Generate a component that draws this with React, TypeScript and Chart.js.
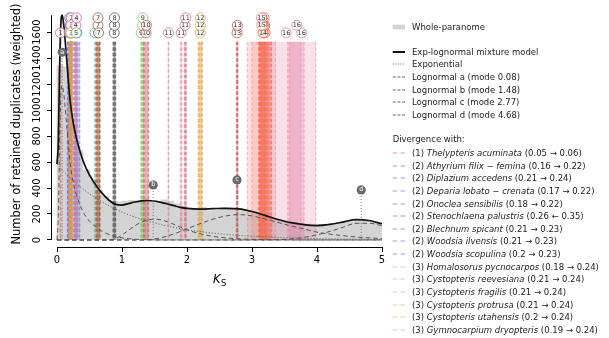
import React, { useEffect, useRef } from "react";
import { Chart, registerables } from "chart.js";

Chart.register(...registerables);

const FONT = '"DejaVu Sans", "Liberation Sans", sans-serif';

// axis ticks
const xTicks = [0, 1, 2, 3, 4, 5];
const yTicks = [0, 200, 400, 600, 800, 1000, 1200, 1400, 1600];

// Ks grid for the fitted curves
const ksGrid = [0, 0.02, 0.04, 0.06, 0.08, 0.1, 0.12, 0.15, 0.2, 0.25, 0.3, 0.4, 0.5, 0.6, 0.7, 0.8, 0.9, 1.0, 1.1, 1.2, 1.3, 1.4, 1.5, 1.6, 1.7, 1.8, 1.9, 2.0, 2.2, 2.4, 2.6, 2.8, 3.0, 3.2, 3.4, 3.6, 3.8, 4.0, 4.2, 4.4, 4.6, 4.8, 5.0];
const mixture = [585, 753, 1322, 1671, 1730, 1669, 1569, 1384, 1079, 900, 780, 610, 500, 420, 357, 306, 274, 269, 280, 292, 301, 304, 300, 290, 277, 264, 251, 243, 238, 241, 244, 240, 219, 189, 158, 133, 118, 111, 120, 138, 157, 150, 125];
const exponential = [585, 573, 562, 551, 540, 529, 519, 504, 479, 456, 433, 392, 355, 321, 291, 263, 238, 215, 195, 176, 160, 144, 131, 118, 107, 97, 87, 79, 65, 53, 43, 36, 29, 24, 19, 16, 13, 11, 9, 7, 6, 5, 4];
const lognormalA = [0, 180, 760, 1120, 1190, 1140, 1050, 880, 600, 444, 347, 218, 145, 99, 66, 42, 26, 16, 10, 6, 3, 2, 1, 0, 0, 0, 0, 0, 0, 0, 0, 0, 0, 0, 0, 0, 0, 0, 0, 0, 0, 0, 0];
const lognormalB = [0, 0, 0, 0, 0, 0, 0, 0, 0, 0, 0, 0, 0, 0, 0, 1, 10, 38, 75, 110, 138, 155, 160, 155, 140, 120, 98, 78, 48, 28, 16, 9, 5, 3, 2, 1, 0, 0, 0, 0, 0, 0, 0];
const lognormalC = [0, 0, 0, 0, 0, 0, 0, 0, 0, 0, 0, 0, 0, 0, 0, 0, 0, 0, 0, 0, 0, 3, 8, 17, 30, 47, 66, 86, 125, 160, 185, 195, 185, 162, 135, 108, 85, 60, 45, 33, 23, 16, 11];
const lognormalD = [0, 0, 0, 0, 0, 0, 0, 0, 0, 0, 0, 0, 0, 0, 0, 0, 0, 0, 0, 0, 0, 0, 0, 0, 0, 0, 0, 0, 0, 0, 0, 0, 0, 0, 2, 8, 20, 40, 66, 98, 128, 129, 110];

const componentLetters = ["a", "b", "c", "d"];
const componentModes = [0.08, 1.48, 2.77, 4.68];
const componentMarkerHeights = [1445, 423, 462, 385];

// Whole-paranome histogram (bin width 0.1)
const binCenters = [0.05, 0.15, 0.25, 0.35, 0.45, 0.55, 0.65, 0.75, 0.85, 0.95, 1.05, 1.15, 1.25, 1.35, 1.45, 1.55, 1.65, 1.75, 1.85, 1.95, 2.05, 2.15, 2.25, 2.35, 2.45, 2.55, 2.65, 2.75, 2.85, 2.95, 3.05, 3.15, 3.25, 3.35, 3.45, 3.55, 3.65, 3.75, 3.85, 3.95, 4.05, 4.15, 4.25, 4.35, 4.45, 4.55, 4.65, 4.75, 4.85, 4.95];
const binCounts = [1340, 1330, 880, 690, 540, 460, 385, 335, 300, 295, 300, 305, 300, 305, 300, 295, 310, 300, 280, 262, 245, 240, 250, 225, 230, 250, 245, 240, 232, 215, 208, 200, 185, 165, 150, 140, 132, 128, 122, 118, 118, 120, 128, 135, 145, 150, 155, 150, 140, 128];

// Divergence (ortholog) ranges
const divFrom = [0.05, 0.16, 0.21, 0.17, 0.18, 0.26, 0.21, 0.21, 0.2, 0.18, 0.21, 0.21, 0.21, 0.2, 0.19, 0.27, 0.28, 0.29, 0.58, 0.6, 0.61, 0.62, 0.86, 0.87, 0.88, 1.29, 1.31, 1.3, 1.33, 1.35, 1.71, 1.9, 1.96, 1.97, 2.17, 2.18, 2.19, 2.76, 2.77, 3.1, 3.11, 3.12, 3.12, 3.15, 2.93, 3.0, 3.3, 3.55, 3.58];
const divTo = [0.06, 0.22, 0.24, 0.22, 0.22, 0.35, 0.23, 0.23, 0.23, 0.24, 0.24, 0.24, 0.24, 0.24, 0.24, 0.31, 0.32, 0.3, 0.59, 0.66, 0.65, 0.66, 0.9, 0.9, 0.89, 1.3, 1.33, 1.34, 1.41, 1.4, 1.72, 1.92, 1.98, 1.99, 2.24, 2.23, 2.22, 2.78, 2.78, 3.3, 3.28, 3.25, 3.22, 3.2, 3.36, 3.3, 3.75, 3.98, 3.8];
const divArrow = ["→", "→", "→", "→", "→", "←", "→", "→", "→", "→", "→", "→", "→", "→", "→"];
const divGroup = [1, 2, 2, 2, 2, 2, 2, 2, 2, 3, 3, 3, 3, 3, 3, 4, 4, 5, 6, 7, 7, 7, 8, 8, 8, 9, 9, 9, 10, 10, 11, 11, 11, 11, 12, 12, 12, 13, 13, 14, 14, 14, 14, 14, 15, 15, 16, 16, 16];
const divNames = [
  "Thelypteris acuminata",
  "Athyrium filix − femina",
  "Diplazium accedens",
  "Deparia lobato − crenata",
  "Onoclea sensibilis",
  "Stenochlaena palustris",
  "Blechnum spicant",
  "Woodsia ilvensis",
  "Woodsia scopulina",
  "Homalosorus pycnocarpos",
  "Cystopteris reevesiana",
  "Cystopteris fragilis",
  "Cystopteris protrusa",
  "Cystopteris utahensis",
  "Gymnocarpium dryopteris",
];
const groupColors = ["#E8505A", "#5A5AE6", "#EBA54B", "#F050C8", "#5CC85C", "#2AB0B0", "#A0522D", "#555555", "#6CCF6C", "#D6505E", "#DC6E7E", "#E6A850", "#D24A4A", "#FF4A1C", "#F08080", "#E27BA0"];

const BAND_TOP = 1525;

function pts(xs: number[], ys: number[]) {
  return xs.map((x, i) => ({ x, y: ys[i] }));
}

const overlayPlugin = {
  id: "overlay",
  afterDatasetDraw(chart: any, args: any) {
    if (args.meta.type !== "bar") return;
    const ctx = chart.ctx;
    const xs = chart.scales.x;
    const ys = chart.scales.y;
    const yTop = ys.getPixelForValue(BAND_TOP);
    const yBot = ys.getPixelForValue(0);
    ctx.save();
    divFrom.forEach((a, i) => {
      const b = divTo[i];
      const col = groupColors[divGroup[i] - 1];
      const x1 = xs.getPixelForValue(Math.min(a, b));
      const x2 = xs.getPixelForValue(Math.max(a, b));
      ctx.globalAlpha = 0.24;
      ctx.fillStyle = col;
      ctx.fillRect(x1, yTop, Math.max(x2 - x1, 0.8), yBot - yTop);
      ctx.globalAlpha = 0.5;
      ctx.strokeStyle = col;
      ctx.lineWidth = 1.2;
      ctx.setLineDash([3.5, 2]);
      ctx.beginPath();
      ctx.moveTo(x1, yTop);
      ctx.lineTo(x1, yBot);
      ctx.moveTo(x2, yTop);
      ctx.lineTo(x2, yBot);
      ctx.stroke();
    });
    ctx.restore();
  },
  afterDatasetsDraw(chart: any) {
    const ctx = chart.ctx;
    const xs = chart.scales.x;
    const ys = chart.scales.y;
    ctx.save();
    // component markers
    componentModes.forEach((m, i) => {
      const px = xs.getPixelForValue(m);
      const py = ys.getPixelForValue(componentMarkerHeights[i]);
      ctx.strokeStyle = "#777";
      ctx.lineWidth = 1;
      ctx.setLineDash([1, 2]);
      ctx.beginPath();
      ctx.moveTo(px, py);
      ctx.lineTo(px, ys.getPixelForValue(0));
      ctx.stroke();
      ctx.setLineDash([]);
      ctx.fillStyle = "#6a6a6a";
      ctx.beginPath();
      ctx.arc(px, py, 4.6, 0, Math.PI * 2);
      ctx.fill();
      ctx.fillStyle = "#fff";
      ctx.font = `6.5px ${FONT}`;
      ctx.textAlign = "center";
      ctx.textBaseline = "middle";
      ctx.fillText(componentLetters[i], px, py - 0.3);
    });
    // divergence labels
    const bandTopPx = ys.getPixelForValue(BAND_TOP);
    const levels = [bandTopPx - 9, bandTopPx - 16.5, bandTopPx - 24];
    const placed: { x: number; l: number }[] = [];
    divFrom.forEach((a, i) => {
      const mid = (a + divTo[i]) / 2;
      const px = xs.getPixelForValue(mid);
      let best = 0;
      let bestDist = -1;
      for (let l = 0; l < levels.length; l++) {
        let near = Infinity;
        placed.forEach((p) => {
          if (p.l === l) near = Math.min(near, Math.abs(p.x - px));
        });
        if (near >= 8) {
          best = l;
          bestDist = Infinity;
          break;
        }
        if (near > bestDist) {
          bestDist = near;
          best = l;
        }
      }
      placed.push({ x: px, l: best });
      const py = levels[best];
      const col = groupColors[divGroup[i] - 1];
      ctx.setLineDash([]);
      ctx.globalAlpha = 0.75;
      ctx.fillStyle = "#ffffff";
      ctx.beginPath();
      ctx.arc(px, py, 5, 0, Math.PI * 2);
      ctx.fill();
      ctx.globalAlpha = 0.8;
      ctx.strokeStyle = col;
      ctx.lineWidth = 1;
      ctx.stroke();
      ctx.globalAlpha = 1;
      ctx.fillStyle = "#333";
      ctx.font = `6.5px ${FONT}`;
      ctx.textAlign = "center";
      ctx.textBaseline = "middle";
      ctx.fillText(String(divGroup[i]), px, py);
    });
    ctx.globalAlpha = 1;
    // axis lines
    ctx.strokeStyle = "#000";
    ctx.lineWidth = 1;
    ctx.setLineDash([]);
    const axY = chart.chartArea.bottom + 0.5;
    ctx.beginPath();
    ctx.moveTo(xs.getPixelForValue(xTicks[0]), axY);
    ctx.lineTo(xs.getPixelForValue(xTicks[xTicks.length - 1]), axY);
    ctx.stroke();
    const axX = chart.chartArea.left - 0.5;
    ctx.beginPath();
    ctx.moveTo(axX, ys.getPixelForValue(yTicks[0]));
    ctx.lineTo(axX, ys.getPixelForValue(Math.max(...mixture)));
    ctx.stroke();
    // y tick labels (rotated, at the scale's own tick positions)
    ctx.fillStyle = "#000";
    ctx.font = `10px ${FONT}`;
    ctx.textAlign = "center";
    ctx.textBaseline = "middle";
    ys.ticks.forEach((t: any) => {
      const py = ys.getPixelForValue(t.value);
      ctx.save();
      ctx.translate(37.5, py);
      ctx.rotate(-Math.PI / 2);
      ctx.fillText(String(t.value), 0, 0);
      ctx.restore();
    });
    // axis titles
    ctx.font = `11.5px ${FONT}`;
    ctx.translate(17, 124);
    ctx.rotate(-Math.PI / 2);
    ctx.fillText("Number of retained duplicates (weighted)", 0, 0);
    ctx.setTransform(1, 0, 0, 1, 0, 0);
    const cx = xs.getPixelForValue(2.5);
    ctx.textAlign = "left";
    ctx.textBaseline = "alphabetic";
    ctx.font = `italic 11.5px ${FONT}`;
    const wK = ctx.measureText("K").width;
    ctx.font = `8.5px ${FONT}`;
    const wS = ctx.measureText("S").width;
    const x0 = cx - (wK + wS) / 2;
    ctx.font = `italic 11.5px ${FONT}`;
    ctx.fillText("K", x0, 283);
    ctx.font = `8.5px ${FONT}`;
    ctx.fillText("S", x0 + wK + 0.3, 285.5);
    ctx.restore();
  },
};

function Sym({ kind, color }: { kind: string; color?: string }) {
  let el: any = null;
  if (kind === "rect") el = <rect x={0.7} y={1.7} width={12.3} height={4.7} fill="#d3d3d3" />;
  else if (kind === "solid") el = <line x1={0.7} x2={13} y1={4} y2={4} stroke="#111" strokeWidth={2} />;
  else if (kind === "dotted") el = <line x1={0.7} x2={13} y1={4} y2={4} stroke="#666" strokeWidth={1} strokeDasharray="1 1.5" />;
  else if (kind === "dashed") el = <line x1={0.7} x2={13} y1={4} y2={4} stroke="#666" strokeWidth={1.1} strokeDasharray="3 1.7" />;
  else el = <line x1={0.7} x2={13} y1={4} y2={4} stroke={color} strokeOpacity={0.6} strokeWidth={1.2} strokeDasharray="4.5 3.3" />;
  return el;
}

function Row({ y, kind, color, children }: any) {
  return (
    <>
      {kind ? (
        <svg style={{ position: "absolute", left: 392, top: y - 4 }} width={14} height={8}>
          <Sym kind={kind} color={color} />
        </svg>
      ) : null}
      <div
        style={{
          position: "absolute",
          left: kind ? 412 : 392.7,
          top: y - 6,
          height: 12,
          lineHeight: "12px",
          fontSize: 8.5,
          whiteSpace: "nowrap",
          color: "#222",
        }}
      >
        {children}
      </div>
    </>
  );
}

function Legend() {
  const step = 12.65;
  const curveTop = 51.7;
  const curveLabels = [
    "Exp-lognormal mixture model",
    "Exponential",
    ...componentLetters.map((l, i) => `Lognormal ${l} (mode ${componentModes[i]})`),
  ];
  const curveKinds = ["solid", "dotted", "dashed", "dashed", "dashed", "dashed"];
  return (
    <div style={{ position: "absolute", left: 0, top: 0, width: 609, height: 338, fontFamily: FONT, pointerEvents: "none" }}>
      <Row y={26.7} kind="rect">Whole-paranome</Row>
      {curveLabels.map((t, i) => (
        <Row key={t} y={curveTop + i * step} kind={curveKinds[i]}>
          {t}
        </Row>
      ))}
      <Row y={curveTop + 7 * step - 1}>Divergence with:</Row>
      {divNames.map((n, i) => (
        <Row key={n + i} y={curveTop + (8 + i) * step} kind="div" color={groupColors[divGroup[i] - 1]}>
          ({divGroup[i]}) <i>{n}</i> ({divFrom[i]} {divArrow[i]} {divTo[i]})
        </Row>
      ))}
    </div>
  );
}

export default function App() {
  const ref = useRef<HTMLCanvasElement>(null);
  useEffect(() => {
    document.body.style.margin = "0";
    const canvas = ref.current;
    if (!canvas) return;
    const lineBase = { type: "line" as const, pointRadius: 0, fill: false, cubicInterpolationMode: "monotone" as const, order: 1 };
    const chart = new Chart(canvas, {
      type: "bar",
      data: {
        datasets: [
          {
            type: "bar",
            label: "Whole-paranome",
            data: pts(binCenters, binCounts),
            backgroundColor: "#d4d4d4",
            borderWidth: 0,
            barPercentage: 1,
            categoryPercentage: 1,
            order: 10,
          } as any,
          { ...lineBase, label: "Exponential", data: pts(ksGrid, exponential), borderColor: "#555", borderWidth: 1, borderDash: [1, 2] },
          { ...lineBase, label: "Lognormal a", data: pts(ksGrid, lognormalA), borderColor: "#555", borderWidth: 1, borderDash: [4.5, 3] },
          { ...lineBase, label: "Lognormal b", data: pts(ksGrid, lognormalB), borderColor: "#555", borderWidth: 1, borderDash: [4.5, 3] },
          { ...lineBase, label: "Lognormal c", data: pts(ksGrid, lognormalC), borderColor: "#555", borderWidth: 1, borderDash: [4.5, 3] },
          { ...lineBase, label: "Lognormal d", data: pts(ksGrid, lognormalD), borderColor: "#555", borderWidth: 1, borderDash: [4.5, 3] },
          { ...lineBase, label: "Exp-lognormal mixture model", data: pts(ksGrid, mixture), borderColor: "#111", borderWidth: 1.7, order: 0 },
        ] as any,
      },
      options: {
        animation: false,
        responsive: false,
        maintainAspectRatio: false,
        devicePixelRatio: 1,
        layout: { padding: { left: 0, right: 227, top: 10, bottom: 0 } },
        plugins: { legend: { display: false }, tooltip: { enabled: false } },
        scales: {
          x: {
            type: "linear",
            min: -0.077,
            max: 5,
            offset: false,
            afterFit: (s: any) => {
              s.height = 91;
            },
            afterBuildTicks: (s: any) => {
              s.ticks = xTicks.map((v) => ({ value: v }));
            },
            border: { display: false },
            grid: { display: true, offset: false, drawOnChartArea: false, drawTicks: true, tickLength: 5, color: "#000", lineWidth: 1 },
            ticks: {
              autoSkip: false,
              maxRotation: 0,
              padding: 2,
              color: "#000",
              font: { family: FONT, size: 10 },
              callback: (v: any) => String(v),
            },
          },
          y: {
            type: "linear",
            min: -54,
            max: 1770,
            afterFit: (s: any) => {
              s.width = 52;
            },
            afterBuildTicks: (s: any) => {
              s.ticks = yTicks.map((v) => ({ value: v }));
            },
            border: { display: false },
            grid: { display: true, drawOnChartArea: false, drawTicks: true, tickLength: 5, color: "#000", lineWidth: 1 },
            ticks: {
              autoSkip: false,
              color: "rgba(0,0,0,0)",
              font: { family: FONT, size: 10 },
              callback: (v: any) => String(v),
            },
          },
        },
      } as any,
      plugins: [overlayPlugin],
    });
    return () => chart.destroy();
  }, []);
  return (
    <div style={{ position: "absolute", left: 0, top: 0, width: 609, height: 338, overflow: "hidden", background: "#fff" }}>
      <canvas ref={ref} width={609} height={338} style={{ position: "absolute", left: 0, top: 0, width: 609, height: 338 }} />
      <Legend />
    </div>
  );
}
